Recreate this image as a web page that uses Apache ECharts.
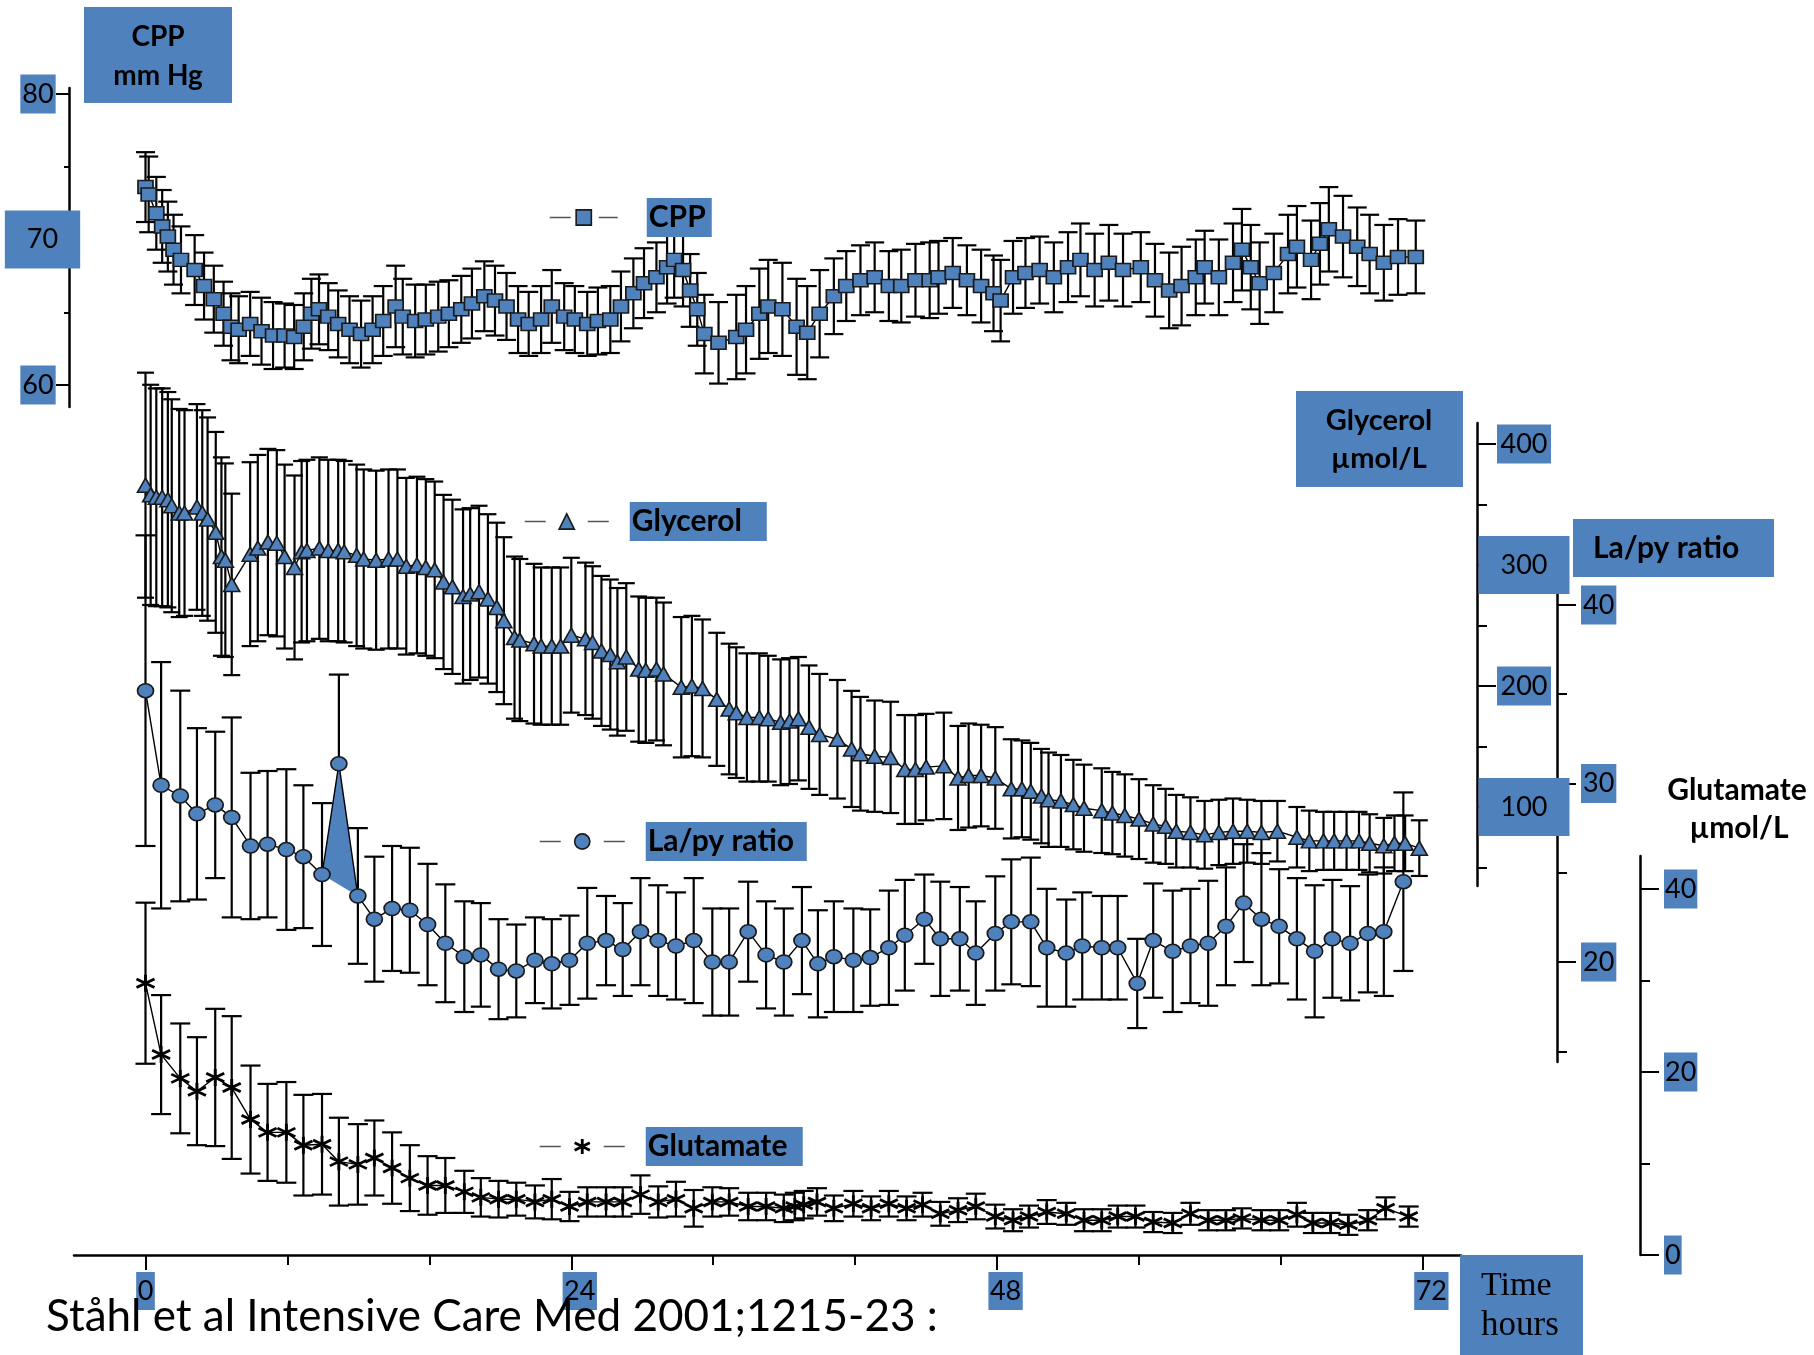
<!DOCTYPE html>
<html>
<head>
<meta charset="utf-8">
<script src="https://cdn.jsdelivr.net/npm/echarts@6/dist/echarts.min.js"></script>
<style>
  html, body { margin: 0; padding: 0; background: #fff; }
  #chart { width: 1814px; height: 1355px; }
</style>
</head>
<body>
<div id="chart"></div>
<script>
// ---- Time axis (hours after start of monitoring) ----
const hourLabels = [0, 24, 48, 72];
const hourMinorTicks = [8, 16, 32, 40, 56, 64];

// ---- CPP, mm Hg (mean and SD) ----
const cppHours = [0, 0.18, 0.61, 0.94, 1.26, 1.58, 2.0, 2.77, 3.3, 3.85, 4.4, 4.82, 5.25, 5.9, 6.54, 7.19, 7.84, 8.38, 8.92, 9.35,
  9.78, 10.3, 10.86, 11.5, 12.15, 12.8, 13.4, 14.1, 14.5, 15.2, 15.8, 16.5, 17.1, 17.8, 18.4, 19.1, 19.7, 20.35, 21.0, 21.6,
  22.3, 22.9, 23.6, 24.2, 24.9, 25.5, 26.2, 26.8, 27.5, 28.1, 28.8, 29.4, 29.8, 30.3, 30.7, 31.1,
  31.5, 32.3, 33.3, 33.85, 34.6, 35.1, 35.9, 36.7, 37.3, 38.0, 38.8, 39.5, 40.3, 41.1, 41.9, 42.6, 43.4, 44.2, 44.7, 45.5,
  46.3, 47.1, 47.8, 48.2, 48.9, 49.6, 50.4, 51.2, 52.0, 52.7, 53.5, 54.3, 55.1, 56.1, 56.9, 57.7, 58.4, 59.2, 59.7, 60.5,
  61.3, 61.8, 62.3, 62.8, 63.6, 64.4, 64.9, 65.7, 66.2, 66.7, 67.5, 68.3, 69.0, 69.8, 70.6, 71.6];
const cppMean = [73.6, 73.1, 71.8, 70.9, 70.2, 69.3, 68.6, 67.9, 66.8, 65.9, 64.9, 64.0, 63.8, 64.2, 63.7, 63.4, 63.4, 63.3, 64.0, 64.9,
  65.2, 64.7, 64.2, 63.8, 63.5, 63.8, 64.4, 65.4, 64.7, 64.4, 64.5, 64.7, 64.9, 65.2, 65.6, 66.1, 65.8, 65.4, 64.5, 64.2,
  64.5, 65.4, 64.7, 64.5, 64.2, 64.4, 64.5, 65.4, 66.3, 67.0, 67.4, 68.1, 68.6, 67.9, 66.5, 65.2,
  63.5, 62.9, 63.3, 63.8, 64.9, 65.4, 65.2, 64.0, 63.6, 64.9, 66.1, 66.8, 67.2, 67.4, 66.8, 66.8, 67.2, 67.2, 67.4, 67.7,
  67.2, 66.8, 66.3, 65.8, 67.4, 67.7, 67.9, 67.4, 68.1, 68.6, 67.9, 68.4, 67.9, 68.1, 67.2, 66.5, 66.8, 67.4, 68.1, 67.4,
  68.4, 69.3, 68.1, 67.0, 67.7, 69.0, 69.5, 68.6, 69.7, 70.7, 70.2, 69.5, 69.0, 68.4, 68.8, 68.8];
const cppSD = [2.4, 2.6, 2.5, 2.5, 2.4, 2.4, 2.3, 2.4, 2.3, 2.3, 2.2, 2.3, 2.3, 2.2, 2.3, 2.3, 2.2, 2.2, 2.3, 2.4,
  2.4, 2.3, 2.3, 2.3, 2.3, 2.3, 2.4, 2.8, 2.6, 2.5, 2.4, 2.4, 2.3, 2.3, 2.4, 2.4, 2.4, 2.3, 2.3, 2.2,
  2.3, 2.5, 2.3, 2.3, 2.2, 2.3, 2.3, 2.4, 2.4, 2.4, 2.4, 2.5, 2.6, 2.5, 2.5, 2.5,
  2.7, 2.8, 2.9, 3.0, 3.1, 3.2, 3.2, 3.3, 3.2, 3.0, 2.6, 2.4, 2.4, 2.4, 2.4, 2.5, 2.5, 2.6, 2.5, 2.4,
  2.4, 2.5, 2.6, 2.8, 2.5, 2.4, 2.3, 2.4, 2.4, 2.5, 2.5, 2.6, 2.5, 2.4, 2.5, 2.6, 2.7, 2.6, 2.5, 2.6,
  2.7, 2.8, 2.9, 2.8, 2.7, 2.7, 2.8, 2.7, 2.8, 2.9, 2.8, 2.7, 2.7, 2.6, 2.6, 2.5];

// ---- Glycerol, µmol/L ----
const glycerolHours = [0, 0.29, 0.61, 0.94, 1.26, 1.48, 1.9, 2.2, 2.9, 3.2, 3.5, 3.96, 4.28, 4.5, 4.86, 5.9, 6.33, 6.9, 7.4, 7.84,
  8.4, 8.8, 9.1, 9.8, 10.3, 10.86, 11.2, 11.9, 12.3, 13.0, 13.7, 14.2, 14.7, 15.3, 15.8, 16.3, 16.8, 17.3, 17.9, 18.3,
  18.8, 19.3, 19.8, 20.2, 20.8, 21.1, 21.9, 22.3, 22.9, 23.4, 24.0, 24.8, 25.2, 25.7, 26.2, 26.6, 27.1, 27.8, 28.2, 28.8,
  29.2, 30.2, 30.8, 31.4,
  32.2, 32.9, 33.3, 33.9, 34.6, 35.1, 35.8, 36.3, 36.8, 37.4, 38.0, 39.0, 39.8, 40.3, 41.1, 42.0, 42.8, 43.4, 44.0, 45.0,
  45.8, 46.4, 47.1, 47.9, 48.8, 49.4, 49.9, 50.5, 50.9, 51.6, 52.3, 52.9, 53.9, 54.5, 55.2, 56.0, 56.8, 57.5, 58.1, 58.9,
  59.7, 60.5, 61.3, 62.1, 62.9, 63.8, 64.9, 65.6, 66.4, 67.0, 67.7, 68.4, 69.0, 69.8, 70.4, 71.0, 71.8];
const glycerolMean = [366, 358, 356, 356, 354, 349, 343, 343, 348, 343, 338, 327, 307, 304, 284, 309, 314, 319, 318, 307,
  298, 311, 312, 314, 312, 312, 311, 308, 305, 304, 305, 305, 299, 300, 298, 296, 286, 282, 274, 276,
  278, 272, 265, 254, 240, 238, 235, 233, 233, 233, 242, 239, 236, 229, 226, 220, 224, 214, 213, 214,
  210, 199, 200, 198,
  189, 181, 178, 174, 174, 173, 170, 171, 173, 166, 160, 156, 148, 144, 142, 141, 131, 131, 133, 134,
  124, 126, 126, 124, 115, 115, 113, 109, 106, 105, 102, 99, 97, 95, 93, 90, 86, 84, 80, 79,
  77, 79, 80, 80, 79, 80, 75, 72, 72, 72, 72, 72, 70, 68, 70, 70, 66];
const glycerolSD = [93, 91, 90, 90, 89, 88, 86, 85, 85, 85, 84, 83, 82, 80, 75, 76, 77, 77, 77, 76,
  76, 75, 75, 75, 75, 75, 75, 75, 74, 74, 74, 74, 73, 73, 73, 73, 72, 72, 72, 71,
  71, 70, 70, 69, 67, 67, 66, 65, 65, 65, 64, 63, 63, 62, 62, 61, 61, 60, 60, 59,
  59, 58, 58, 57,
  55, 54, 54, 53, 53, 52, 52, 52, 51, 51, 50, 49, 48, 47, 46, 46, 45, 45, 44, 44,
  43, 43, 42, 42, 41, 40, 40, 39, 39, 38, 37, 36, 35, 34, 34, 33, 32, 31, 30, 29,
  28, 27, 27, 26, 26, 25, 25, 25, 24, 24, 24, 24, 24, 23, 23, 23, 23];

// ---- Lactate / pyruvate ratio ----
const lapyHours = [0, 0.88, 1.96, 2.9, 3.93, 4.86, 5.92, 6.88, 7.94, 8.9, 9.95, 10.9, 11.97, 12.9, 13.9, 14.9, 15.9, 16.9, 17.97, 18.9,
  19.9, 20.9, 21.95, 22.9, 23.9, 24.9, 25.96, 26.9, 27.9, 28.9, 29.9, 30.9, 31.95, 32.9, 33.97, 34.98, 35.98,
  37.0, 37.9, 38.8, 39.9, 40.85, 41.9, 42.8, 43.9, 44.8, 45.9, 46.8, 47.9, 48.8, 49.9, 50.8, 51.9, 52.8, 53.9, 54.8, 55.9,
  56.8, 57.9, 58.9, 59.9, 60.9, 61.9, 62.9, 63.9, 64.9, 65.9, 66.9, 67.9, 68.9, 69.8, 70.9];
const lapyMean = [35.2, 29.9, 29.3, 28.3, 28.8, 28.1, 26.5, 26.6, 26.3, 25.9, 24.9, 31.1, 23.7, 22.4, 23.0, 22.9, 22.1, 21.05, 20.3, 20.4,
  19.6, 19.5, 20.1, 19.9, 20.1, 21.05, 21.2, 20.7, 21.7, 21.2, 20.9, 21.2, 20.0, 20.0, 21.7, 20.4, 20.0,
  21.2, 19.9, 20.3, 20.1, 20.25, 20.8, 21.5, 22.4, 21.3, 21.3, 20.5, 21.6, 22.25, 22.25, 20.8, 20.5, 20.9, 20.8, 20.8, 18.8,
  21.2, 20.6, 20.9, 21.05, 22.0, 23.3, 22.4, 22.0, 21.3, 20.6, 21.3, 21.05, 21.6, 21.7, 24.5];
const lapySD = [8.7, 6.9, 5.9, 4.8, 4.1, 5.6, 4.1, 4.1, 4.5, 4.0, 4.0, 5.0, 3.8, 3.5, 3.5, 3.5, 3.4, 3.3, 3.1, 2.9,
  2.8, 2.6, 2.4, 2.5, 2.5, 3.1, 2.5, 2.6, 3.0, 3.1, 3.0, 3.5, 3.0, 3.0, 2.8, 3.0, 3.0,
  3.0, 3.0, 3.1, 2.9, 2.7, 3.2, 3.1, 2.5, 3.2, 2.9, 2.9, 3.2, 3.5, 3.6, 3.3, 3.0, 3.0, 2.9, 2.9, 2.5,
  3.2, 3.4, 3.2, 3.5, 3.3, 3.3, 3.7, 3.2, 3.4, 3.7, 3.3, 3.2, 3.3, 3.6, 5.0];
// the steep early peak is drawn as a shaded triangle between these three samples
const lapyShadeIndex = [10, 11, 12];

// ---- Glutamate, µmol/L ----
const glutamateHours = [0, 0.88, 1.96, 2.9, 3.93, 4.86, 5.92, 6.88, 7.94, 8.9, 9.95, 10.9, 11.97, 12.9, 13.9, 14.9, 15.9, 16.9, 17.97, 18.9,
  19.9, 20.9, 21.95, 22.9, 23.9, 24.9, 25.96, 26.9, 27.9, 28.9, 29.9, 30.9, 31.95, 32.9, 33.97, 34.98, 35.98,
  36.6, 37.1, 37.85, 38.8, 39.9, 40.9, 41.9, 42.9, 43.8, 44.8, 45.8, 46.8, 47.9, 48.9, 49.8, 50.8, 51.9, 52.9, 53.9, 54.8,
  55.8, 56.8, 57.9, 58.9, 59.9, 60.9, 61.8, 62.9, 63.9, 64.9, 65.8, 66.8, 67.8, 68.9, 69.9, 71.2];
const glutamateMean = [29.7, 21.9, 19.3, 17.9, 19.4, 18.3, 14.8, 13.4, 13.4, 12.0, 12.1, 10.2, 9.9, 10.6, 9.5, 8.4, 7.6, 7.6, 6.9, 6.3,
  6.1, 6.1, 5.8, 6.1, 5.3, 5.8, 5.8, 5.8, 6.6, 5.8, 6.1, 5.1, 5.8, 5.8, 5.3, 5.3, 5.1,
  5.3, 5.5, 5.8, 5.1, 5.6, 5.1, 5.6, 5.1, 5.5, 4.5, 4.9, 5.3, 4.2, 3.8, 4.2, 4.7, 4.5, 3.8, 3.8, 4.2,
  4.2, 3.6, 3.5, 4.5, 3.8, 3.8, 4.0, 3.8, 3.8, 4.4, 3.5, 3.5, 3.3, 3.8, 5.1, 4.2];
const glutamateSD = [8.8, 6.5, 6.0, 5.9, 7.5, 7.8, 5.9, 5.3, 5.5, 5.5, 5.5, 4.8, 4.4, 4.1, 3.9, 3.6, 3.2, 3.0, 2.3, 2.1,
  2.0, 1.8, 1.8, 2.2, 1.6, 1.6, 1.6, 1.6, 2.1, 1.7, 1.9, 2.0, 1.6, 1.5, 1.5, 1.5, 1.5,
  1.5, 1.5, 1.5, 1.4, 1.4, 1.3, 1.4, 1.3, 1.3, 1.3, 1.3, 1.4, 1.3, 1.2, 1.2, 1.3, 1.2, 1.2, 1.2, 1.2,
  1.2, 1.1, 1.1, 1.2, 1.1, 1.1, 1.1, 1.1, 1.1, 1.3, 1.1, 1.1, 1.1, 1.1, 1.2, 1.1];

// ---- Axis ticks ----
const cppMajor = [60, 70, 80], cppMinor = [65, 75];
const glycerolMajor = [100, 200, 300, 400], glycerolMinor = [50, 150, 250, 350];
const lapyMajor = [20, 30, 40], lapyMinor = [15, 25, 35];
const glutamateMajor = [0, 20, 40], glutamateMinor = [10, 30];

// ---------------------------------------------------------------
const BLUE = '#4F81BD';
const INK = '#000';
const FONT = 'Lato';

const chart = echarts.init(document.getElementById('chart'), null, { renderer: 'canvas' });

// shared horizontal layout: all panels use the same time scale
const GRID_LEFT = 74, GRID_WIDTH = 1387;
const T_MIN = -4.03, T_MAX = 74.15;

const grids = [
  { left: GRID_LEFT, width: GRID_WIDTH, top: 88, height: 319 },   // CPP
  { left: GRID_LEFT, width: GRID_WIDTH, top: 423, height: 463 },  // glycerol
  { left: GRID_LEFT, width: GRID_WIDTH, top: 593, height: 469 },  // La/py
  { left: GRID_LEFT, width: GRID_WIDTH, top: 856, height: 399 }   // glutamate
].map(g => Object.assign(g, { containLabel: false, outerBoundsMode: 'none' }));

// tick-label boxes: blue background, fixed content height plus vertical padding
const smallBox = { backgroundColor: BLUE, color: INK, fontFamily: FONT, fontSize: 27, height: 27, lineHeight: 39, padding: [6, 2] };
const bigBox = { backgroundColor: BLUE, color: INK, fontFamily: FONT, fontSize: 27, height: 28, lineHeight: 58, padding: [15, 22] };

function hiddenX(gridIndex) {
  return { type: 'value', gridIndex, min: T_MIN, max: T_MAX, show: false };
}

function yMajor(gridIndex, min, max, position, offset, ticks, tickLen, label) {
  return {
    type: 'value', gridIndex, min, max, position, offset,
    splitLine: { show: false },
    axisLine: { show: true, onZero: false, lineStyle: { color: INK, width: 2.5 } },
    axisTick: { show: true, customValues: ticks, length: tickLen, lineStyle: { color: INK, width: 2 } },
    axisLabel: label
  };
}
function yMinor(gridIndex, min, max, position, offset, ticks, tickLen) {
  return {
    type: 'value', gridIndex, min, max, position, offset,
    splitLine: { show: false },
    axisLine: { show: false, onZero: false },
    axisTick: { show: true, customValues: ticks, length: tickLen, lineStyle: { color: INK, width: 2 } },
    axisLabel: { show: false }
  };
}

const xAxes = [
  hiddenX(0), hiddenX(1), hiddenX(2),
  {
    type: 'value', gridIndex: 3, min: T_MIN, max: T_MAX, position: 'bottom',
    splitLine: { show: false },
    axisLine: { show: true, onZero: false, lineStyle: { color: INK, width: 2.5 } },
    axisTick: { show: true, customValues: hourLabels, length: 15, lineStyle: { color: INK, width: 2 } },
    axisLabel: {
      customValues: hourLabels, margin: 17, align: 'center', verticalAlign: 'top',
      formatter: v => v === 0 ? '{b|0}' : '{p|}{b|' + v + '}',
      rich: { b: Object.assign({}, smallBox, { lineHeight: 38, padding: [5.5, 1.5] }), p: { width: 17 } }
    }
  },
  {
    type: 'value', gridIndex: 3, min: T_MIN, max: T_MAX, position: 'bottom',
    splitLine: { show: false }, axisLine: { show: false, onZero: false },
    axisTick: { show: true, customValues: hourMinorTicks, length: 10, lineStyle: { color: INK, width: 2 } },
    axisLabel: { show: false }
  }
];

const yAxes = [
  yMajor(0, 58.49, 80.41, 'left', 5, cppMajor, 13, {
    customValues: cppMajor, margin: 31, align: 'center', verticalAlign: 'middle',
    formatter: v => v === 70 ? '{p|}{big|70}' : '{sm|' + v + '}',
    rich: { sm: smallBox, big: bigBox, p: { width: 9 } }
  }),
  yMinor(0, 58.49, 80.41, 'left', 5, cppMinor, 5),
  yMajor(1, 34.7, 417.4, 'right', 16, glycerolMajor, 19, {
    customValues: glycerolMajor, margin: 47, align: 'center', verticalAlign: 'middle',
    formatter: v => (v === 300 || v === 100) ? '{big|' + v + '}' : '{sm|' + v + '}',
    rich: { sm: Object.assign({}, smallBox, { padding: [6, 3.5] }), big: bigBox }
  }),
  yMinor(1, 34.7, 417.4, 'right', 16, glycerolMinor, 10),
  yMajor(2, 14.40, 40.67, 'right', 96, lapyMajor, 19, {
    customValues: lapyMajor, margin: 24, align: 'left', verticalAlign: 'middle',
    formatter: v => '{sm|' + v + '}', rich: { sm: smallBox }
  }),
  yMinor(2, 14.40, 40.67, 'right', 96, lapyMinor, 10),
  yMajor(3, 0, 43.6, 'right', 179, glutamateMajor, 19, {
    customValues: glutamateMajor, margin: 24, align: 'left', verticalAlign: 'middle',
    formatter: v => '{sm|' + v + '}', rich: { sm: Object.assign({}, smallBox, { padding: [6, 1] }) }
  }),
  yMinor(3, 0, 43.6, 'right', 179, glutamateMinor, 10)
];

// vertical SD bar with caps, positioned through the axis scales
function errorBars(capHalf) {
  return function (params, api) {
    const t = api.value(0), m = api.value(1), s = api.value(2);
    const hi = api.coord([t, m + s]);
    const lo = api.coord([t, m - s]);
    const st = { stroke: INK, lineWidth: 2.2, fill: null };
    return {
      type: 'group',
      children: [
        { type: 'line', shape: { x1: hi[0], y1: hi[1], x2: lo[0], y2: lo[1] }, style: st },
        { type: 'line', shape: { x1: hi[0] - capHalf, y1: hi[1], x2: hi[0] + capHalf, y2: hi[1] }, style: st },
        { type: 'line', shape: { x1: lo[0] - capHalf, y1: lo[1], x2: lo[0] + capHalf, y2: lo[1] }, style: st }
      ]
    };
  };
}

function sdSeries(name, axis, hours, mean, sd, cap) {
  return {
    type: 'custom', name, xAxisIndex: axis[0], yAxisIndex: axis[1],
    dimensions: ['t', 'mean', 'sd'],
    encode: { x: 0, y: 1 },
    data: hours.map((t, i) => [t, mean[i], sd[i]]),
    renderItem: errorBars(cap), clip: false, silent: true, z: 2
  };
}

function meanSeries(name, axis, hours, mean, symbol, size, itemStyle) {
  return {
    type: 'line', name, xAxisIndex: axis[0], yAxisIndex: axis[1],
    data: hours.map((t, i) => [t, mean[i]]),
    symbol, symbolSize: size, showAllSymbol: true, clip: false, z: 4,
    itemStyle, lineStyle: { color: INK, width: 1.4 },
    emphasis: { disabled: true }, silent: true
  };
}

const markerStyle = { color: BLUE, borderColor: '#1a1a1a', borderWidth: 1.6 };
const starStyle = { color: INK, borderColor: INK, borderWidth: 2.8 };
const ASTERISK = 'path://M0,-10L0,10M-8.66,-5L8.66,5M-8.66,5L8.66,-5';

const series = [
  sdSeries('CPP SD', [0, 0], cppHours, cppMean, cppSD, 9.5),
  meanSeries('CPP', [0, 0], cppHours, cppMean, 'rect', [15, 13], markerStyle),

  sdSeries('Glycerol SD', [1, 2], glycerolHours, glycerolMean, glycerolSD, 8.5),
  meanSeries('Glycerol', [1, 2], glycerolHours, glycerolMean, 'triangle', [16, 14], markerStyle),

  sdSeries('La/py SD', [2, 4], lapyHours, lapyMean, lapySD, 10),
  {
    type: 'custom', name: 'La/py peak', xAxisIndex: 2, yAxisIndex: 4, clip: false, silent: true, z: 3,
    data: [[lapyHours[lapyShadeIndex[1]], lapyMean[lapyShadeIndex[1]]]],
    renderItem: function (params, api) {
      const pts = lapyShadeIndex.map(i => api.coord([lapyHours[i], lapyMean[i]]));
      return { type: 'polygon', shape: { points: pts }, style: { fill: BLUE, stroke: null } };
    }
  },
  meanSeries('La/py ratio', [2, 4], lapyHours, lapyMean, 'circle', [16, 14], markerStyle),

  sdSeries('Glutamate SD', [3, 6], glutamateHours, glutamateMean, glutamateSD, 10),
  meanSeries('Glutamate', [3, 6], glutamateHours, glutamateMean, ASTERISK, [18, 17], starStyle)
];

function legendFor(name, left, top, iconWidth, dash, gap, boxWidth, itemStyle) {
  return {
    data: [name], left, top, padding: 0, orient: 'horizontal',
    itemWidth: iconWidth, itemHeight: 19, selectedMode: false,
    lineStyle: { color: '#555', width: 1.5, type: dash },
    itemStyle,
    formatter: n => '{g|}{t|' + n + '}',
    textStyle: {
      rich: {
        g: { width: gap },
        t: { backgroundColor: BLUE, color: INK, fontFamily: FONT, fontWeight: 'bold', fontSize: 30,
             height: 39, lineHeight: 39, width: boxWidth - 2, padding: [0, 0, 0, 2] }
      }
    }
  };
}

const legends = [
  legendFor('CPP', 549, 198, 68, [21, 28], 24, 65, markerStyle),
  legendFor('Glycerol', 524, 502, 84, [21, 42], 16, 137, markerStyle),
  legendFor('La/py ratio', 539, 822, 85, [21, 43], 16, 161, markerStyle),
  legendFor('Glutamate', 539, 1127, 85, [21, 43], 16, 157, starStyle)
];

function boxRect(x, y, w, h) {
  return { type: 'rect', shape: { x, y, width: w, height: h }, style: { fill: BLUE }, z: 20, silent: true };
}
function label(text, x, y, font, align) {
  return {
    type: 'text', x, y, z: 21, silent: true,
    style: { text, font, fill: INK, align: align || 'center', verticalAlign: 'middle' }
  };
}
const TITLE = 'bold 28px Lato';
const TITLE2 = 'bold 29px Lato';

const graphics = [
  boxRect(84, 7, 148, 96),
  label('CPP', 158, 37, TITLE),
  label('mm Hg', 158, 76, TITLE),

  boxRect(1296, 391, 167, 96),
  label('Glycerol', 1379, 421, TITLE2),
  label('µmol/L', 1379, 459, TITLE2),

  boxRect(1573, 519, 201, 58),
  label('La/py ratio', 1593, 548, 'bold 30px Lato', 'left'),

  label('Glutamate', 1737, 790, 'bold 30px Lato'),
  label('µmol/L', 1739, 828, 'bold 30px Lato'),

  boxRect(1460, 1255, 123, 100),
  label('Time', 1481, 1286, '34px "Liberation Serif"', 'left'),
  label('hours', 1481, 1326, '35px "Liberation Serif"', 'left'),

  label('Ståhl et al Intensive Care Med 2001;1215-23 :', 46, 1317, '44px Lato', 'left')
];

chart.setOption({
  animation: false,
  backgroundColor: '#fff',
  textStyle: { fontFamily: FONT },
  grid: grids,
  xAxis: xAxes,
  yAxis: yAxes,
  legend: legends,
  series,
  graphic: graphics
});
</script>
</body>
</html>
